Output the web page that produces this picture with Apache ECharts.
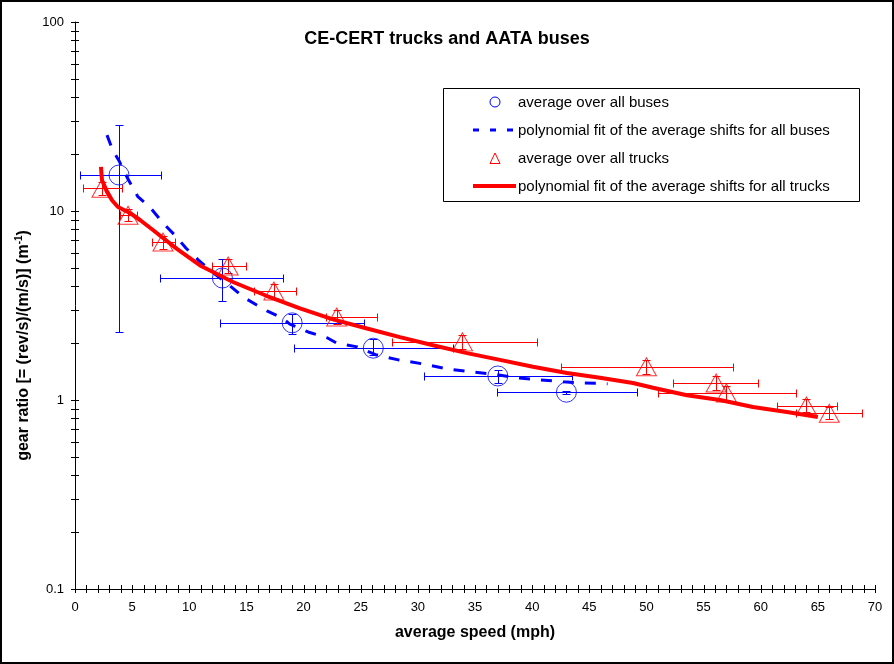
<!DOCTYPE html>
<html><head><meta charset="utf-8">
<script src="https://cdn.jsdelivr.net/npm/echarts@6/dist/echarts.min.js"></script>
<style>html,body{margin:0;padding:0;background:#fff}#c{width:894px;height:664px}</style>
</head><body><div id="c"></div>
<script>
const titleText = 'CE-CERT trucks and AATA buses';
const xAxisName = 'average speed (mph)';
const legendLabels = [
  'average over all buses',
  'polynomial fit of the average shifts for all buses',
  'average over all trucks',
  'polynomial fit of the average shifts for all trucks'
];

// averages over all buses (with error ranges)
const busSpeed   = [3.85, 12.9, 19.0, 26.1, 37.0, 43.0];
const busRatio   = [15.5, 4.42, 2.56, 1.88, 1.34, 1.10];
const busSpeedLo = [0.4, 7.4, 12.7, 19.2, 30.5, 36.9];
const busSpeedHi = [7.5, 18.2, 25.3, 33.1, 43.5, 49.2];
const busRatioLo = [2.29, 3.33, 2.24, 1.73, 1.23, 1.08];
const busRatioHi = [28.5, 5.55, 2.85, 2.10, 1.44, 1.12];

// averages over all trucks (with error ranges)
const truckSpeed   = [2.36, 4.64, 7.70, 13.4, 17.4, 22.9, 33.9, 50.0, 56.1, 57.0, 64.0, 66.0];
const truckRatio   = [13.2, 9.5, 6.85, 5.12, 3.77, 2.75, 2.03, 1.50, 1.23, 1.09, 0.93, 0.85];
const truckSpeedLo = [0.7, 3.9, 6.7, 12.0, 15.7, 22.0, 27.7, 42.5, 52.3, 51.0, 61.4, 63.1];
const truckSpeedHi = [4.1, 5.4, 8.75, 15.0, 19.3, 26.4, 40.4, 57.6, 59.8, 63.1, 66.7, 68.9];
const truckRatioLo = [12.2, 8.8, 6.3, 4.7, 3.47, 2.53, 1.87, 1.38, 1.13, 1.00, 0.86, 0.79];
const truckRatioHi = [14.3, 10.3, 7.4, 5.55, 4.1, 2.99, 2.2, 1.63, 1.34, 1.18, 1.01, 0.92];

// polynomial fit, buses
const busFitSpeed = [2.8, 3.3, 3.9, 4.6, 5.5, 6.6, 7.7, 8.8, 9.7, 10.8, 11.8, 13.8, 14.7, 15.9, 16.8, 18.1, 18.8, 20.4, 22.1, 22.9, 24.7, 26.4, 28.3, 30.5, 32.6, 34.6, 36.6, 38.7, 40.4, 42.7, 44.4, 46.6];
const busFitRatio = [25.2, 21.0, 18.2, 14.9, 11.9, 10.4, 8.64, 7.38, 6.37, 5.50, 4.87, 3.91, 3.51, 3.18, 2.96, 2.72, 2.52, 2.29, 2.13, 2.00, 1.91, 1.73, 1.63, 1.55, 1.46, 1.41, 1.37, 1.31, 1.28, 1.25, 1.23, 1.22];

// polynomial fit, trucks
const truckFitSpeed = [2.27, 2.36, 2.8, 3.24, 3.76, 4.81, 5.69, 6.82, 7.7, 8.92, 10.94, 13.82, 16.8, 19.69, 22.57, 25.55, 28.43, 31.32, 34.3, 37.18, 40.07, 43.04, 45.93, 48.82, 50.57, 53.54, 56.43, 59.32, 62.29, 65.0];
const truckFitRatio = [17.1, 14.6, 12.6, 11.4, 10.5, 9.76, 8.96, 7.93, 7.2, 6.3, 5.15, 4.21, 3.55, 3.05, 2.67, 2.39, 2.15, 1.95, 1.77, 1.63, 1.50, 1.39, 1.31, 1.23, 1.16, 1.06, 1.00, 0.918, 0.864, 0.813];

// axis tick marks
const xTickValues = [0,1,2,3,4,5,6,7,8,9,10,11,12,13,14,15,16,17,18,19,20,21,22,23,24,25,26,27,28,29,30,31,32,33,34,35,36,37,38,39,40,41,42,43,44,45,46,47,48,49,50,51,52,53,54,55,56,57,58,59,60,61,62,63,64,65,66,67,68,69,70];
const yTickValues = [0.1,0.2,0.3,0.4,0.5,0.6,0.7,0.8,0.9,1,2,3,4,5,6,7,8,9,10,20,30,40,50,60,70,80,90,100];

const X_MIN = 0, X_MAX = 70, Y_MIN = 0.1, Y_MAX = 100;
const BLUE = '#0000ff', RED = '#ff0000';
const FONT = 'Liberation Sans, Arial, sans-serif';

function crisp(v){ return Math.round(v) + 0.5; }

function errRender(color){
  return function(params, api){
    const x = api.value(0), y = api.value(1);
    const a = api.coord([api.value(2), y]);
    const b = api.coord([api.value(3), y]);
    const c = api.coord([x, api.value(4)]);
    const d = api.coord([x, api.value(5)]);
    const cap = 4;
    const st = {stroke: color, lineWidth: 1};
    const hy = crisp(a[1]), vx = crisp(c[0]);
    const ax = crisp(a[0]), bx = crisp(b[0]), cy = crisp(c[1]), dy = crisp(d[1]);
    return {type:'group', children:[
      {type:'line', shape:{x1:ax, y1:hy, x2:bx, y2:hy}, style:st},
      {type:'line', shape:{x1:ax, y1:hy-cap, x2:ax, y2:hy+cap}, style:st},
      {type:'line', shape:{x1:bx, y1:hy-cap, x2:bx, y2:hy+cap}, style:st},
      {type:'line', shape:{x1:vx, y1:cy, x2:vx, y2:dy}, style:st},
      {type:'line', shape:{x1:vx-cap, y1:cy, x2:vx+cap, y2:cy}, style:st},
      {type:'line', shape:{x1:vx-cap, y1:dy, x2:vx+cap, y2:dy}, style:st}
    ]};
  };
}

function xTickRender(params, api){
  const p = api.coord([api.value(0), Y_MIN]);
  const x = crisp(p[0]);
  return {type:'line', shape:{x1:x, y1:p[1]-4, x2:x, y2:p[1]+4}, style:{stroke:'#000', lineWidth:1}};
}
function yTickRender(params, api){
  const p = api.coord([X_MIN, api.value(1)]);
  const y = crisp(p[1]);
  return {type:'line', shape:{x1:p[0]-4, y1:y, x2:p[0]+4, y2:y}, style:{stroke:'#000', lineWidth:1}};
}

const busErrData = busSpeed.map((v,i)=>[v, busRatio[i], busSpeedLo[i], busSpeedHi[i], busRatioLo[i], busRatioHi[i]]);
const truckErrData = truckSpeed.map((v,i)=>[v, truckRatio[i], truckSpeedLo[i], truckSpeedHi[i], truckRatioLo[i], truckRatioHi[i]]);

const chart = echarts.init(document.getElementById('c'), null, {renderer:'canvas'});
const option = {
  animation: false,
  backgroundColor: '#ffffff',
  title: {
    text: titleText, left: 'center', top: 25,
    textStyle: {fontFamily: FONT, fontSize: 18, fontWeight: 'bold', color: '#000'}
  },
  grid: {left: 75, right: 19, top: 22, bottom: 75},
  xAxis: {
    type: 'value', min: X_MIN, max: X_MAX, interval: 5,
    name: xAxisName, nameLocation: 'middle', nameGap: 36,
    nameTextStyle: {fontFamily: FONT, fontSize: 16, fontWeight: 'bold', color: '#000'},
    axisLine: {show: true, lineStyle: {color: '#000', width: 1}},
    axisTick: {show: false},
    splitLine: {show: false},
    axisLabel: {fontFamily: FONT, fontSize: 13, color: '#000', margin: 12}
  },
  yAxis: {
    type: 'log', logBase: 10, min: Y_MIN, max: Y_MAX,
    name: '{n|gear ratio [= (rev/s)/(m/s)] (m}{s|-1}{n|)}',
    nameLocation: 'middle', nameGap: 36, nameRotate: 90,
    nameTextStyle: {
      fontFamily: FONT, fontSize: 16, fontWeight: 'bold', color: '#000',
      padding: [0, 80, 0, 0],
      rich: {
        n: {fontFamily: FONT, fontSize: 16, fontWeight: 'bold', color: '#000'},
        s: {fontFamily: FONT, fontSize: 10, fontWeight: 'bold', color: '#000', verticalAlign: 'top', padding: [0, 0, 8, 0]}
      }
    },
    axisLine: {show: true, lineStyle: {color: '#000', width: 1}},
    axisTick: {show: false},
    splitLine: {show: false},
    minorTick: {show: false},
    axisLabel: {fontFamily: FONT, fontSize: 13, color: '#000', margin: 11,
      formatter: function(v){ return String(+v.toPrecision(3)); }}
  },
  graphic: [
    {type:'rect', shape:{x:1, y:1, width:892, height:662}, style:{fill:'none', stroke:'#000', lineWidth:2}, z:100},
    {type:'rect', shape:{x:443.5, y:88.5, width:416, height:113}, style:{fill:'#fff', stroke:'#000', lineWidth:1}, z:50},
    {type:'circle', shape:{cx:495, cy:102, r:5}, style:{fill:'none', stroke:BLUE, lineWidth:1}, z:51},
    {type:'line', shape:{x1:473, y1:130, x2:516, y2:130}, style:{stroke:BLUE, lineWidth:3, lineDash:[6,11]}, z:51},
    {type:'polygon', shape:{points:[[495,153],[490,163.5],[500,163.5]]}, style:{fill:'none', stroke:RED, lineWidth:1}, z:51},
    {type:'line', shape:{x1:473, y1:186, x2:516, y2:186}, style:{stroke:RED, lineWidth:4}, z:51},
    {type:'text', left:518, top:95, style:{text:legendLabels[0], font:'15px ' + FONT, fill:'#000'}, z:51},
    {type:'text', left:518, top:123, style:{text:legendLabels[1], font:'15px ' + FONT, fill:'#000'}, z:51},
    {type:'text', left:518, top:151, style:{text:legendLabels[2], font:'15px ' + FONT, fill:'#000'}, z:51},
    {type:'text', left:518, top:179, style:{text:legendLabels[3], font:'15px ' + FONT, fill:'#000'}, z:51}
  ],
  series: [
    {type:'custom', name:'xticks', renderItem:xTickRender, data: xTickValues.map(v=>[v, Y_MIN]), encode:{x:0, y:1}, silent:true, z:3},
    {type:'custom', name:'yticks', renderItem:yTickRender, data: yTickValues.map(v=>[X_MIN, v]), encode:{x:0, y:1}, silent:true, z:3},
    {type:'custom', name:'busErr', renderItem:errRender(BLUE), data: busErrData, encode:{x:0, y:1}, silent:true, z:4},
    {type:'custom', name:'truckErr', renderItem:errRender(RED), data: truckErrData, encode:{x:0, y:1}, silent:true, z:4},
    {type:'scatter', name:legendLabels[0], data: busSpeed.map((v,i)=>[v, busRatio[i]]),
      symbol:'circle', symbolSize:20, itemStyle:{color:'rgba(0,0,0,0)', borderColor:BLUE, borderWidth:1}, z:5},
    {type:'scatter', name:legendLabels[2], data: truckSpeed.map((v,i)=>[v, truckRatio[i]]),
      symbol:'triangle', symbolSize:[20,18], itemStyle:{color:'rgba(0,0,0,0)', borderColor:RED, borderWidth:1}, z:5},
    {type:'line', name:legendLabels[1], data: busFitSpeed.map((v,i)=>[v, busFitRatio[i]]),
      symbol:'none', smooth:false, lineStyle:{color:BLUE, width:3, type:[11,11]}, z:6},
    {type:'line', name:legendLabels[3], data: truckFitSpeed.map((v,i)=>[v, truckFitRatio[i]]),
      symbol:'none', smooth:false, lineStyle:{color:RED, width:4}, z:7}
  ]
};
chart.setOption(option);
</script>
</body></html>
